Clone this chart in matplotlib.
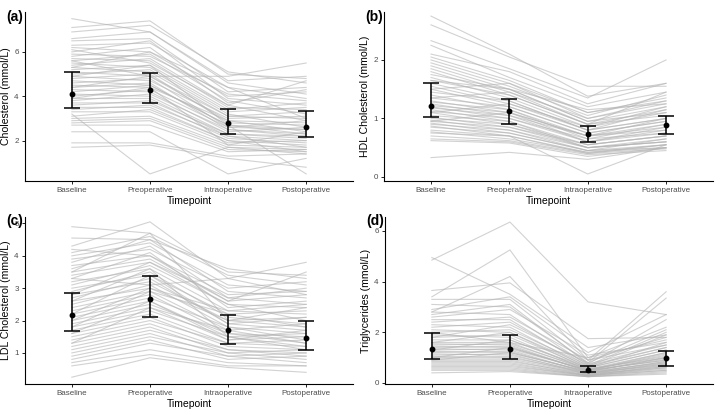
import numpy as np
import matplotlib
matplotlib.use("Agg")
import matplotlib.pyplot as plt

plt.rcParams['font.family'] = ['Liberation Sans', 'DejaVu Sans']

timepoints = ["Baseline", "Preoperative", "Intraoperative", "Postoperative"]

# Panel (a) total cholesterol, one value per subject per timepoint
chol_base = [7.5, 7.1, 6.9, 6.6, 6.5, 6.3, 6.2, 6.0, 5.9, 5.8, 5.7, 5.6, 5.5, 5.4, 5.3, 5.2, 5.1,
             5.0, 4.9, 4.8, 4.7, 4.6, 4.5, 4.4, 4.3, 4.2, 4.1, 4.0, 3.9, 3.8, 3.7, 3.6, 3.5, 3.4,
             3.3, 3.2, 3.1, 3.0, 2.9, 2.8, 2.7, 2.4, 1.9, 1.7, 5.6, 4.9, 6.1, 4.4, 3.9, 5.3]
chol_pre = [6.9, 7.4, 7.2, 6.9, 6.6, 6.4, 6.0, 6.5, 5.8, 6.2, 5.6, 5.9, 5.3, 5.7, 5.1, 5.4, 4.9,
            5.2, 4.7, 5.0, 4.5, 4.8, 4.4, 4.6, 4.2, 4.5, 4.0, 4.3, 3.9, 4.1, 3.7, 3.8, 3.5, 3.6,
            3.3, 0.5, 3.4, 3.1, 3.0, 2.9, 2.7, 2.4, 1.9, 1.8, 4.9, 5.4, 5.5, 4.9, 4.4, 6.0]
chol_intra = [4.6, 5.0, 5.1, 4.7, 4.2, 4.4, 4.0, 3.9, 4.1, 3.7, 3.5, 3.8, 3.3, 3.6, 3.1, 3.4, 2.9,
              3.2, 3.0, 2.8, 2.7, 2.6, 2.9, 2.5, 2.4, 2.7, 2.3, 2.6, 2.2, 2.5, 2.1, 2.3, 2.0, 2.2,
              1.9, 1.7, 2.0, 1.8, 1.7, 1.6, 1.5, 0.5, 1.3, 1.2, 4.9, 2.7, 3.6, 3.1, 1.8, 4.4]
chol_post = [4.1, 4.8, 4.6, 4.9, 4.4, 3.9, 4.2, 3.6, 3.8, 4.3, 3.4, 3.2, 3.5, 2.9, 3.0, 3.7, 2.8,
             2.6, 3.1, 2.7, 2.5, 2.9, 2.4, 2.2, 2.6, 2.3, 2.1, 2.5, 2.0, 2.3, 1.9, 2.2, 1.8, 1.7,
             2.0, 1.6, 1.5, 1.7, 1.4, 1.5, 1.6, 1.2, 1.4, 0.8, 5.5, 0.5, 4.7, 3.3, 2.4, 3.0]
chol_mid = [4.1, 4.3, 2.81, 2.62]
chol_lo = [3.47, 3.71, 2.3, 2.18]
chol_hi = [5.1, 5.05, 3.41, 3.34]

# Panel (b) HDL cholesterol
hdl_base = [2.75, 2.6, 2.33, 2.25, 2.1, 2.05, 2.0, 1.95, 1.9, 1.85, 1.8, 1.75, 1.7, 1.65, 1.6, 1.55,
            1.5, 1.45, 1.4, 1.35, 1.3, 1.28, 1.25, 1.22, 1.2, 1.18, 1.15, 1.12, 1.1, 1.05, 1.02,
            1.0, 0.97, 0.95, 0.92, 0.9, 0.87, 0.85, 0.8, 0.77, 0.75, 0.7, 0.65, 0.62, 0.33, 1.5,
            1.35, 1.1, 0.95, 1.65]
hdl_pre = [2.1, 2.05, 1.85, 1.7, 1.8, 1.65, 1.6, 1.55, 1.5, 1.45, 1.4, 1.5, 1.35, 1.4, 1.3, 1.25,
           1.2, 1.3, 1.15, 1.2, 1.1, 1.15, 1.05, 1.1, 1.0, 1.05, 0.95, 1.0, 0.9, 0.95, 0.85, 0.9,
           0.8, 0.85, 0.75, 0.8, 0.7, 0.75, 0.7, 0.65, 0.7, 0.62, 0.6, 0.58, 0.42, 1.6, 1.45,
           1.25, 1.1, 1.5]
hdl_intra = [1.38, 1.55, 1.35, 1.2, 1.25, 1.1, 1.0, 1.05, 0.95, 1.0, 0.9, 0.95, 0.85, 0.9, 0.8,
             0.85, 0.75, 0.8, 0.7, 0.75, 0.7, 0.65, 0.7, 0.6, 0.65, 0.6, 0.55, 0.6, 0.55, 0.5,
             0.55, 0.5, 0.45, 0.5, 0.45, 0.5, 0.42, 0.45, 0.4, 0.42, 0.05, 0.4, 0.38, 0.35, 0.3,
             1.1, 0.9, 0.8, 0.7, 1.15]
hdl_post = [1.6, 1.55, 2.0, 1.45, 1.6, 1.35, 1.3, 1.4, 1.2, 1.25, 1.15, 1.1, 1.2, 1.05, 1.0, 1.1,
            0.95, 1.0, 0.9, 0.95, 0.85, 0.9, 0.8, 0.85, 0.75, 0.8, 0.7, 0.75, 0.7, 0.65, 0.7, 0.6,
            0.65, 0.6, 0.55, 0.6, 0.55, 0.5, 0.55, 0.5, 0.55, 0.48, 0.45, 0.5, 0.5, 1.3, 1.45,
            1.15, 1.0, 1.25]
hdl_mid = [1.22, 1.13, 0.74, 0.89]
hdl_lo = [1.02, 0.91, 0.6, 0.74]
hdl_hi = [1.6, 1.34, 0.87, 1.05]

# Panel (c) LDL cholesterol
ldl_base = [4.9, 4.55, 4.3, 4.1, 4.0, 3.9, 3.8, 3.7, 3.6, 3.5, 3.4, 3.3, 3.2, 3.1, 3.0, 2.9, 2.8,
            2.7, 2.6, 2.5, 2.4, 2.3, 2.2, 2.1, 2.0, 1.9, 1.8, 1.7, 1.6, 1.5, 1.4, 1.3, 1.2, 1.1,
            1.0, 0.9, 0.8, 0.7, 0.6, 0.25, 3.5, 2.8, 2.2, 1.8, 1.3, 2.6, 3.3, 1.6, 2.0, 4.2]
ldl_pre = [4.7, 4.5, 5.05, 4.6, 4.4, 4.2, 4.5, 4.0, 4.3, 3.9, 3.8, 4.1, 3.6, 3.7, 3.4, 3.5, 3.2,
           3.3, 3.0, 3.1, 2.9, 2.8, 2.7, 2.6, 2.5, 2.4, 2.3, 2.2, 2.1, 2.0, 1.9, 1.8, 1.7, 1.6,
           1.5, 1.4, 1.3, 1.1, 0.95, 0.85, 4.7, 3.8, 3.4, 2.9, 2.4, 3.6, 3.1, 2.6, 3.0, 4.0]
ldl_intra = [3.5, 3.6, 3.3, 3.4, 3.1, 3.0, 2.9, 2.8, 2.7, 2.6, 2.5, 2.4, 2.3, 2.5, 2.2, 2.1, 2.0,
             1.9, 2.0, 1.8, 1.7, 1.6, 1.8, 1.5, 1.6, 1.4, 1.5, 1.3, 1.2, 1.3, 1.1, 1.0, 1.1, 0.9,
             1.0, 0.8, 0.9, 0.7, 0.6, 0.55, 2.0, 2.7, 1.9, 2.2, 1.7, 1.5, 3.3, 1.4, 2.3, 2.6]
ldl_post = [3.4, 3.3, 3.8, 3.1, 2.9, 3.2, 2.7, 2.9, 2.5, 2.8, 2.4, 2.6, 2.2, 2.0, 2.3, 1.9, 2.1,
            1.7, 1.8, 1.6, 1.9, 1.5, 1.4, 1.6, 1.3, 1.5, 1.2, 1.4, 1.1, 1.2, 1.0, 1.1, 0.9, 1.0,
            0.8, 0.9, 0.7, 0.6, 0.6, 0.4, 2.4, 3.0, 2.1, 1.8, 1.3, 1.1, 2.8, 1.7, 2.5, 3.5]
ldl_mid = [2.18, 2.67, 1.70, 1.45]
ldl_lo = [1.67, 2.12, 1.29, 1.10]
ldl_hi = [2.84, 3.38, 2.18, 1.98]

# Panel (d) triglycerides
tg_base = [4.85, 4.95, 3.4, 2.8, 3.65, 3.3, 3.1, 2.9, 2.8, 2.6, 2.5, 2.4, 2.3, 2.2, 2.1, 2.0, 1.9,
           1.8, 1.7, 1.6, 1.55, 1.5, 1.45, 1.4, 1.35, 1.3, 1.25, 1.2, 1.15, 1.1, 1.05, 1.0, 0.95,
           0.9, 0.85, 0.8, 0.75, 0.7, 0.65, 0.6, 0.55, 0.5, 0.4, 1.8, 2.0, 1.3, 1.0, 2.7, 1.6, 0.9]
tg_pre = [6.35, 3.5, 5.25, 4.2, 3.95, 3.3, 3.0, 3.4, 2.7, 2.9, 2.5, 2.6, 2.2, 2.4, 2.0, 2.1, 1.8,
          1.9, 1.7, 1.6, 1.5, 1.55, 1.4, 1.45, 1.3, 1.35, 1.2, 1.25, 1.1, 1.15, 1.0, 1.05, 0.95,
          0.9, 0.85, 0.8, 0.75, 0.7, 0.65, 0.6, 0.55, 0.5, 0.45, 2.3, 1.6, 1.7, 1.4, 3.1, 2.0, 1.2]
tg_intra = [3.2, 1.4, 1.0, 0.9, 1.75, 0.9, 0.8, 1.2, 0.7, 1.1, 0.65, 0.9, 0.6, 0.75, 0.55, 0.7,
            0.5, 0.6, 0.55, 0.5, 0.45, 0.55, 0.5, 0.45, 0.4, 0.5, 0.45, 0.4, 0.4, 0.35, 0.4, 0.35,
            0.35, 0.3, 0.35, 0.3, 0.3, 0.28, 0.3, 0.27, 0.25, 0.25, 0.25, 0.8, 1.0, 0.6, 0.5,
            0.75, 0.65, 0.45]
tg_post = [2.7, 1.9, 2.2, 1.5, 1.8, 3.6, 3.35, 2.7, 2.0, 1.6, 1.4, 1.8, 1.3, 1.5, 1.2, 1.4, 1.1,
           1.3, 1.0, 1.15, 0.95, 1.05, 0.9, 1.0, 0.85, 0.9, 0.8, 0.85, 0.75, 0.8, 0.7, 0.75, 0.65,
           0.7, 0.6, 0.65, 0.55, 0.6, 0.5, 0.5, 0.45, 0.4, 0.35, 2.1, 1.7, 1.6, 1.2, 2.5, 1.9, 1.0]
tg_mid = [1.33, 1.33, 0.53, 0.99]
tg_lo = [0.95, 0.96, 0.42, 0.68]
tg_hi = [1.96, 1.88, 0.67, 1.28]

fig = plt.figure(figsize=(7.26, 4.15), dpi=100)
W, H = 726, 415


def px_axes(left, top, right, bottom):
    return fig.add_axes([left / W, 1 - bottom / H, (right - left) / W, (bottom - top) / H])


def panel(ax, series, mid, lo, hi, ylabel, yticks, ylim, tag, tag_xy):
    x = np.arange(len(timepoints))
    data = np.array(series).T
    for row in data:
        ax.plot(x, row, color='#b4b4b4', alpha=0.6, lw=0.8, zorder=1)
    mid = np.array(mid)
    yerr = [mid - np.array(lo), np.array(hi) - mid]
    ax.errorbar(x, mid, yerr=yerr, fmt='o', color='black', ms=3.2, elinewidth=1.1,
                capsize=6, capthick=1.1, zorder=3)
    ax.set_xlim(-0.6, 3.6)
    ax.set_ylim(*ylim)
    ax.set_xticks(x)
    ax.set_xticklabels(timepoints)
    ax.set_yticks(yticks)
    ax.tick_params(labelsize=5.8, labelcolor='#4d4d4d', length=2.5, width=0.6, pad=2)
    ax.set_xlabel("Timepoint", fontsize=7.5, labelpad=1)
    ax.set_ylabel(ylabel, fontsize=7.6, labelpad=2)
    for s in ['top', 'right']:
        ax.spines[s].set_visible(False)
    for s in ['left', 'bottom']:
        ax.spines[s].set_linewidth(0.8)
    fig.text(tag_xy[0] / W, 1 - tag_xy[1] / H, tag, fontsize=10, fontweight='bold',
             ha='left', va='center')


ax_a = px_axes(25, 12, 353, 181)
panel(ax_a, [chol_base, chol_pre, chol_intra, chol_post], chol_mid, chol_lo, chol_hi,
      "Cholesterol (mmol/L)", [2, 4, 6], (0.18, 7.8), "(a)", (6, 17))

ax_b = px_axes(384, 12, 713, 181)
panel(ax_b, [hdl_base, hdl_pre, hdl_intra, hdl_post], hdl_mid, hdl_lo, hdl_hi,
      "HDL Cholesterol (mmol/L)", [0, 1, 2], (-0.07, 2.82), "(b)", (365, 17))

ax_c = px_axes(25, 217, 353, 384)
panel(ax_c, [ldl_base, ldl_pre, ldl_intra, ldl_post], ldl_mid, ldl_lo, ldl_hi,
      "LDL Cholesterol (mmol/L)", [1, 2, 3, 4, 5], (0.04, 5.2), "(c)", (6, 221))

ax_d = px_axes(385, 217, 713, 384)
panel(ax_d, [tg_base, tg_pre, tg_intra, tg_post], tg_mid, tg_lo, tg_hi,
      "Triglycerides (mmol/L)", [0, 2, 4, 6], (-0.04, 6.55), "(d)", (366, 221))

fig.savefig("out.png", dpi=100)
